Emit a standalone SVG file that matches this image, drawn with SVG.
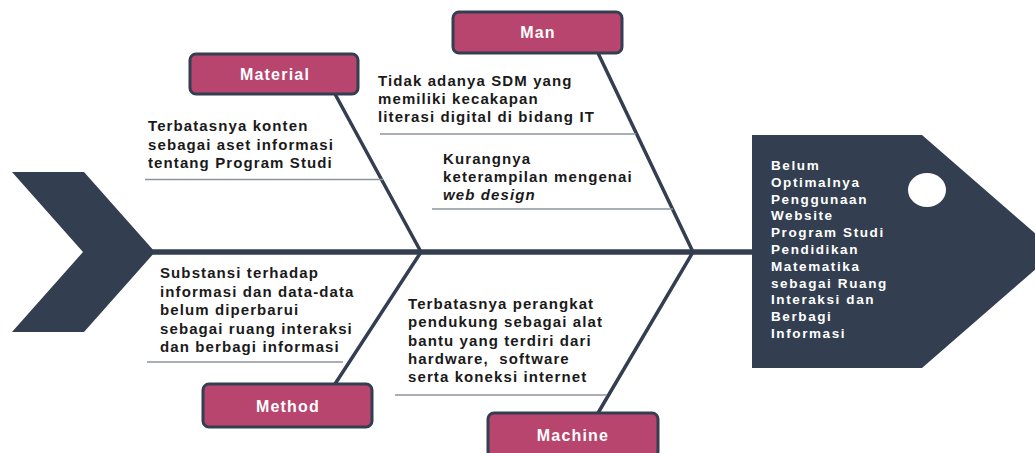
<svg xmlns="http://www.w3.org/2000/svg" width="1035" height="453" viewBox="0 0 1035 453">
<style>
.dark{fill:#333F50}
.bone{stroke:#333F50;stroke-width:3.5;fill:none;stroke-linecap:round}
.spine{stroke:#333F50;stroke-width:5.5;fill:none}
.sub{stroke:#8C949C;stroke-width:1.6;fill:none}
.box{fill:#B8456D;stroke:#333F50;stroke-width:3}
.lbl{font-family:"Liberation Sans",Arial,sans-serif;font-weight:bold;font-size:16px;letter-spacing:1.2px;fill:#FFFFFF;text-anchor:middle}
.t{font-family:"Liberation Sans",Arial,sans-serif;font-weight:bold;font-size:15px;letter-spacing:1.1px;fill:#1A1A1A}
.h{font-family:"Liberation Sans",Arial,sans-serif;font-weight:bold;font-size:13.5px;letter-spacing:1.6px;fill:#FFFFFF}
</style>
<rect width="1035" height="453" fill="#FFFFFF"/>
<g id="tail"><polygon class="dark" points="12,172 84,172 155,252 84,332 12,332 83,252"/></g>
<g id="head">
<polygon class="dark" points="752,135 922,135 1056,251.5 922,368 752,368"/>
<ellipse cx="927" cy="190" rx="19" ry="17" fill="#FFFFFF"/>
<text class="h"><tspan x="771" y="170">Belum</tspan><tspan x="771" y="186.8">Optimalnya</tspan><tspan x="771" y="203.6">Penggunaan</tspan><tspan x="771" y="220.4">Website</tspan><tspan x="771" y="237.2">Program Studi</tspan><tspan x="771" y="254">Pendidikan</tspan><tspan x="771" y="270.8">Matematika</tspan><tspan x="771" y="287.6">sebagai Ruang</tspan><tspan x="771" y="304.4">Interaksi dan</tspan><tspan x="771" y="321.2">Berbagi</tspan><tspan x="771" y="338">Informasi</tspan></text>
</g>
<g id="connectors">
<line class="spine" x1="150" y1="252" x2="754" y2="252"/>
<line class="bone" x1="335" y1="94" x2="421" y2="252"/>
<line class="bone" x1="598" y1="53" x2="693" y2="252"/>
<line class="bone" x1="421" y1="252" x2="335" y2="384"/>
<line class="bone" x1="693" y1="252" x2="598" y2="413"/>
<line class="sub" x1="145" y1="179.5" x2="383" y2="179.5"/>
<line class="sub" x1="380" y1="134" x2="636" y2="134"/>
<line class="sub" x1="432" y1="209" x2="673" y2="209"/>
<line class="sub" x1="147" y1="362" x2="343" y2="362"/>
<line class="sub" x1="395" y1="395" x2="607" y2="395"/>
</g>
<g id="material">
<rect class="box" x="190" y="54" width="168" height="40" rx="6"/>
<text class="lbl" x="275" y="80">Material</text>
</g>
<g id="man">
<rect class="box" x="453" y="12" width="169" height="41" rx="6"/>
<text class="lbl" x="538" y="38">Man</text>
</g>
<g id="method">
<rect class="box" x="203" y="384" width="169" height="43" rx="6"/>
<text class="lbl" x="288" y="412">Method</text>
</g>
<g id="machine">
<rect class="box" x="488" y="413" width="170" height="44" rx="6"/>
<text class="lbl" x="573" y="441">Machine</text>
</g>
<g id="material-cause">
<text class="t"><tspan x="148" y="131">Terbatasnya konten</tspan><tspan x="148" y="149.5">sebagai aset informasi</tspan><tspan x="148" y="168">tentang Program Studi</tspan></text>
</g>
<g id="man-cause-1">
<text class="t"><tspan x="378" y="86">Tidak adanya SDM yang</tspan><tspan x="378" y="104">memiliki kecakapan</tspan><tspan x="378" y="122">literasi digital di bidang IT</tspan></text>
</g>
<g id="man-cause-2">
<text class="t"><tspan x="443" y="164">Kurangnya</tspan><tspan x="443" y="182">keterampilan mengenai</tspan><tspan x="443" y="200" font-style="italic">web design</tspan></text>
</g>
<g id="method-cause">
<text class="t"><tspan x="160" y="278">Substansi terhadap</tspan><tspan x="160" y="296.5">informasi dan data-data</tspan><tspan x="160" y="315">belum diperbarui</tspan><tspan x="160" y="333.5">sebagai ruang interaksi</tspan><tspan x="160" y="352">dan berbagi informasi</tspan></text>
</g>
<g id="machine-cause">
<text class="t" xml:space="preserve"><tspan x="408" y="309">Terbatasnya perangkat</tspan><tspan x="408" y="327">pendukung sebagai alat</tspan><tspan x="408" y="345.5">bantu yang terdiri dari</tspan><tspan x="408" y="364">hardware,  software</tspan><tspan x="408" y="382">serta koneksi internet</tspan></text>
</g>
</svg>
